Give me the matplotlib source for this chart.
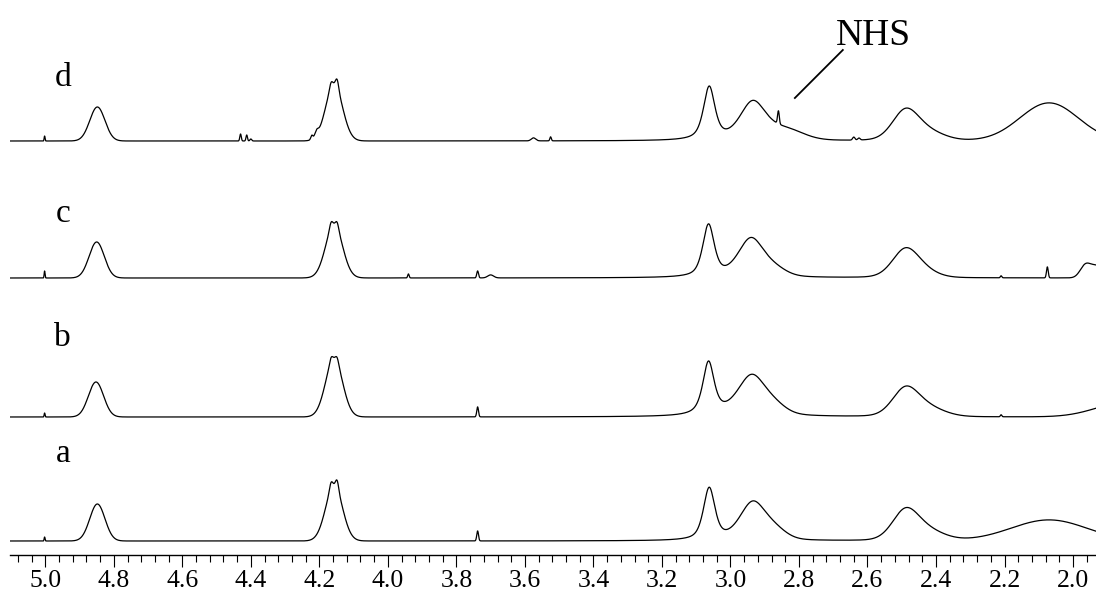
import matplotlib as mpl
mpl.use('Agg')
import matplotlib.pyplot as plt
import numpy as np
from matplotlib.ticker import MultipleLocator, FormatStrFormatter

mpl.rcParams['font.family'] = ['Liberation Serif', 'DejaVu Serif']

# peak tables:
# (shift ppm, height, width ppm, lorentzian fraction)
peaks_a = [
  (5.002, 4, 0.003, 0),
  (4.848, 37, 0.052, 0),
  (4.157, 55, 0.058, 0),
  (4.166, 7, 0.011, 0),
  (4.148, 9, 0.011, 0),
  (3.738, 10, 0.006, 0),
  (3.062, 52, 0.040, 0.6),
  (2.935, 38, 0.090, 0.4),
  (2.870, 8, 0.080, 0),
  (2.490, 28, 0.090, 0.2),
  (2.430, 10, 0.120, 0),
  (2.070, 21, 0.260, 0),
]

peaks_b = [
  (5.002, 4, 0.003, 0),
  (4.852, 35, 0.052, 0),
  (4.157, 58, 0.058, 0),
  (4.166, 5, 0.011, 0),
  (4.148, 5, 0.011, 0),
  (3.738, 10, 0.006, 0),
  (3.064, 53, 0.040, 0.7),
  (2.938, 41, 0.100, 0.5),
  (2.870, 6, 0.080, 0),
  (2.490, 26, 0.090, 0.2),
  (2.430, 9, 0.120, 0),
  (2.210, 2, 0.005, 0),
  (1.850, 14, 0.200, 0),
]

peaks_c = [
  (5.002, 7, 0.003, 0),
  (4.850, 36, 0.052, 0),
  (4.157, 53, 0.058, 0),
  (4.166, 6, 0.011, 0),
  (4.148, 6, 0.011, 0),
  (3.940, 4, 0.005, 0),
  (3.738, 7, 0.006, 0),
  (3.700, 3, 0.020, 0),
  (3.064, 52, 0.040, 0.6),
  (2.940, 39, 0.090, 0.45),
  (2.870, 6, 0.080, 0),
  (2.490, 27, 0.090, 0.2),
  (2.440, 6, 0.100, 0),
  (2.210, 2, 0.005, 0),
  (2.075, 11, 0.006, 0),
  (1.965, 11, 0.035, 0),
  (1.930, 12, 0.050, 0),
]

peaks_d = [
  (5.002, 5, 0.003, 0),
  (4.848, 34, 0.052, 0),
  (4.430, 7, 0.005, 0),
  (4.412, 6, 0.005, 0),
  (4.400, 2, 0.006, 0),
  (4.222, 4, 0.007, 0),
  (4.208, 5, 0.012, 0),
  (4.157, 56, 0.058, 0),
  (4.166, 6, 0.011, 0),
  (4.148, 9, 0.011, 0),
  (3.575, 3, 0.015, 0),
  (3.525, 4, 0.005, 0),
  (3.062, 53, 0.040, 0.65),
  (2.935, 38, 0.090, 0.45),
  (2.860, 13, 0.006, 0),
  (2.840, 10, 0.120, 0),
  (2.640, 3, 0.008, 0),
  (2.625, 2, 0.008, 0),
  (2.490, 28, 0.090, 0.2),
  (2.430, 9, 0.120, 0),
  (2.070, 38, 0.200, 0),
]

trace_names = ['a', 'b', 'c', 'd']
trace_peaks = [peaks_a, peaks_b, peaks_c, peaks_d]


def spectrum(ppm, peaks):
  y = np.zeros_like(ppm)
  for c, h, w, eta in peaks:
    d = (ppm - c) / w
    g = np.exp(-4 * np.log(2) * d ** 2)
    l = 1.0 / (1 + 4 * d ** 2)
    y += h * ((1 - eta) * g + eta * l)
  return y


if __name__ == "__main__":
  offsets = [14, 138, 277, 414]
  label_y = [93, 209, 333, 469]

  ppm = np.linspace(5.103, 1.933, 6000)

  fig = plt.figure(figsize=(10.96, 5.94), dpi=100)
  ax = fig.add_axes([10 / 1096, 39 / 594, 1086 / 1096, 555 / 594])

  for name, peaks, off, ly in zip(trace_names, trace_peaks, offsets, label_y):
    ax.plot(ppm, spectrum(ppm, peaks) + off, color='black', lw=0.9)
    ax.text(4.949, ly, name, fontsize=24, ha='center', va='baseline')

  # NHS marker on spectrum d
  ax.text(2.582, 510, 'NHS', fontsize=27, ha='center', va='baseline')
  ax.plot([2.672, 2.812], [505, 457], color='black', lw=1.3)

  ax.set_xlim(5.103, 1.933)
  ax.set_ylim(0, 555)
  ax.set_yticks([])
  for s in ['top', 'left', 'right']:
    ax.spines[s].set_visible(False)
  ax.spines['bottom'].set_linewidth(1.0)

  ax.xaxis.set_major_locator(MultipleLocator(0.2))
  ax.xaxis.set_minor_locator(MultipleLocator(0.04))
  ax.xaxis.set_major_formatter(FormatStrFormatter('%.1f'))
  ax.tick_params(axis='x', which='major', direction='out', length=8.5,
                 width=0.8, labelsize=18.5, pad=2.5)
  ax.tick_params(axis='x', which='minor', direction='out', length=5, width=0.8)

  fig.savefig('out.png', dpi=100)
